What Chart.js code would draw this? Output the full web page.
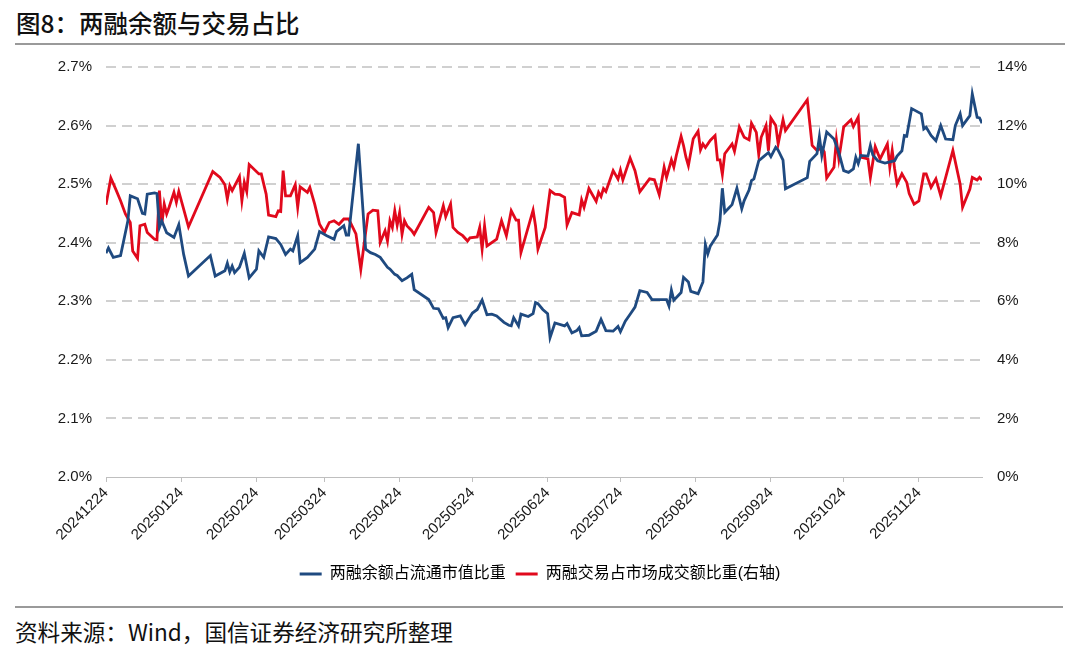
<!DOCTYPE html>
<html>
<head>
<meta charset="utf-8">
<script src="https://cdn.jsdelivr.net/npm/chart.js@4.4.1/dist/chart.umd.min.js"></script>
<style>
    html, body { margin: 0; padding: 0; background: #fff; }
    body { width: 1080px; height: 655px; position: relative; overflow: hidden; font-family: 'Noto Sans CJK SC', sans-serif; }
    #title { position: absolute; left: 16px; top: 8px; font-size: 24.5px; font-weight: 500; line-height: 30px; color: #111; }
    .rule { position: absolute; left: 15px; height: 2px; background: #9a9a9a; }
    #source { position: absolute; left: 15px; top: 617px; font-size: 22.6px; line-height: 30px; color: #111; }
    #wrap { position: absolute; left: 0; top: 0; width: 1080px; height: 600px; }
</style>
</head>
<body>
<div id="title">图8：两融余额与交易占比</div>
<div class="rule" style="top:43px;width:1050px;"></div>
<div id="wrap"><canvas id="chart" width="1080" height="600"></canvas></div>
<div class="rule" style="top:606px;width:1048px;"></div>
<div id="source">资料来源：Wind，国信证券经济研究所整理</div>
<script>
// x values are calendar days after startDate
const startDate = '20241224';
const tickDates = ['20241224', '20250124', '20250224', '20250324', '20250424', '20250524',
    '20250624', '20250724', '20250824', '20250924', '20251024', '20251124'];

// 两融余额占流通市值比重 (%)
const balanceDays = [0, 1, 3, 6, 9, 10, 13, 15, 16, 17, 20, 21, 22, 23, 25, 28, 30, 32, 34, 43,
    45, 49, 50, 51, 52, 53, 55, 57, 59, 62, 63, 65, 67, 70, 72, 74, 76, 77, 79, 80,
    83, 86, 88, 91, 94, 95, 98, 99, 100, 104, 107, 109, 111, 113, 116, 117, 119, 120, 122, 124,
    126, 127, 133, 135, 137, 139, 140, 141, 143, 146, 148, 151, 153, 155, 157, 159, 161, 164, 166, 167,
    168, 170, 171, 174, 176, 177, 178, 180, 182, 183, 185, 189, 190, 192, 194, 195, 196, 199, 202, 204,
    206, 209, 211, 212, 214, 216, 218, 220, 223, 225, 228, 231, 232, 233, 234, 237, 238, 240, 241, 244,
    246, 247, 248, 249, 252, 253, 254, 255, 258, 260, 262, 263, 265, 266, 267, 269, 271, 273, 274, 276,
    277, 279, 280, 289, 290, 293, 294, 295, 297, 300, 302, 304, 306, 308, 309, 310, 311, 314, 315, 316,
    318, 321, 325, 326, 328, 329, 330, 332, 336, 337, 338, 340, 342, 344, 346, 349, 350, 352, 353, 356,
    357, 359, 360, 361];
const balanceRatio = [2.382, 2.391, 2.375, 2.378, 2.437, 2.480, 2.475, 2.450, 2.449, 2.483, 2.485, 2.484, 2.426, 2.437, 2.417, 2.409, 2.431, 2.380, 2.343, 2.378,
    2.343, 2.352, 2.365, 2.350, 2.360, 2.349, 2.358, 2.382, 2.340, 2.355, 2.386, 2.375, 2.410, 2.407, 2.397, 2.380, 2.389, 2.386, 2.412, 2.366,
    2.375, 2.389, 2.419, 2.412, 2.406, 2.419, 2.429, 2.413, 2.413, 2.569, 2.389, 2.383, 2.380, 2.375, 2.358, 2.355, 2.346, 2.344, 2.335, 2.340,
    2.346, 2.320, 2.303, 2.288, 2.287, 2.271, 2.272, 2.255, 2.272, 2.275, 2.260, 2.280, 2.286, 2.302, 2.277, 2.278, 2.275, 2.264, 2.259, 2.258,
    2.272, 2.258, 2.278, 2.274, 2.279, 2.298, 2.296, 2.286, 2.279, 2.238, 2.263, 2.258, 2.262, 2.246, 2.250, 2.255, 2.241, 2.242, 2.249, 2.269,
    2.250, 2.249, 2.257, 2.248, 2.266, 2.278, 2.290, 2.318, 2.315, 2.303, 2.303, 2.303, 2.292, 2.319, 2.302, 2.315, 2.341, 2.333, 2.317, 2.313,
    2.333, 2.397, 2.381, 2.394, 2.413, 2.437, 2.493, 2.452, 2.465, 2.493, 2.458, 2.472, 2.490, 2.506, 2.509, 2.540, 2.547, 2.554, 2.547, 2.563,
    2.558, 2.541, 2.492, 2.511, 2.539, 2.552, 2.581, 2.549, 2.589, 2.577, 2.554, 2.523, 2.520, 2.526, 2.546, 2.535, 2.549, 2.548, 2.566, 2.550,
    2.540, 2.536, 2.540, 2.548, 2.557, 2.583, 2.582, 2.629, 2.620, 2.594, 2.597, 2.583, 2.574, 2.600, 2.577, 2.576, 2.600, 2.620, 2.600, 2.617,
    2.654, 2.614, 2.613, 2.604];

// 两融交易占市场成交额比重 (%, right axis)
const tradeDays = [0, 2, 4, 6, 8, 10, 11, 13, 14, 16, 17, 20, 21, 22, 23, 24, 25, 26, 28, 29,
    30, 32, 34, 44, 47, 49, 50, 51, 52, 55, 56, 57, 58, 59, 63, 64, 66, 67, 70, 71,
    72, 73, 74, 76, 78, 79, 80, 83, 84, 86, 88, 90, 92, 94, 96, 98, 100, 103, 105, 108,
    110, 112, 113, 115, 116, 117, 118, 119, 120, 121, 122, 123, 124, 126, 127, 133, 135, 136, 139, 140,
    142, 143, 145, 147, 149, 150, 153, 154, 155, 156, 157, 161, 163, 165, 167, 169, 170, 171, 176, 177,
    178, 181, 183, 185, 187, 189, 190, 192, 195, 196, 197, 199, 202, 203, 204, 205, 206, 209, 211, 212,
    213, 216, 218, 220, 224, 226, 228, 230, 231, 233, 234, 235, 237, 238, 239, 240, 242, 244, 245, 246,
    247, 249, 251, 252, 253, 254, 255, 258, 259, 261, 263, 265, 266, 268, 269, 270, 272, 273, 274, 276,
    277, 279, 280, 289, 291, 293, 295, 296, 297, 300, 301, 302, 304, 307, 308, 310, 311, 314, 315, 317,
    319, 322, 323, 324, 325, 326, 328, 330, 331, 333, 335, 337, 338, 340, 342, 344, 349, 352, 353, 356,
    357, 359, 360, 361];
const tradeRatio = [9.30, 10.21, 9.83, 9.43, 8.98, 8.69, 7.72, 7.47, 8.58, 8.63, 8.35, 8.12, 8.10, 9.78, 8.63, 9.32, 8.98, 9.21, 9.72, 9.38,
    9.75, 9.15, 8.54, 10.43, 10.23, 9.98, 9.49, 9.95, 9.78, 10.26, 9.43, 10.06, 9.75, 10.67, 10.35, 10.35, 9.66, 8.94, 8.89, 9.09,
    9.07, 10.46, 9.60, 9.60, 9.98, 9.21, 9.91, 9.72, 9.89, 9.32, 8.63, 8.35, 8.69, 8.75, 8.63, 8.81, 8.81, 8.30, 7.09, 8.98,
    9.11, 9.09, 8.01, 8.41, 8.06, 8.75, 8.52, 9.09, 8.60, 9.03, 8.29, 8.75, 8.58, 8.41, 8.29, 9.21, 9.03, 8.35, 9.26, 8.89,
    9.32, 8.52, 8.35, 8.24, 8.06, 8.17, 8.20, 8.52, 7.78, 8.58, 7.89, 8.12, 8.75, 8.24, 9.09, 8.77, 8.77, 7.66, 9.11, 8.58,
    7.78, 8.52, 9.78, 9.66, 9.64, 9.55, 8.61, 9.03, 8.95, 9.46, 9.21, 9.85, 9.41, 9.72, 9.58, 9.85, 9.75, 10.46, 10.17, 10.48,
    10.14, 10.89, 10.46, 9.74, 10.18, 10.15, 9.64, 10.58, 10.23, 10.83, 10.58, 10.97, 11.63, 11.32, 10.92, 10.63, 11.55, 11.81, 11.17, 11.37,
    11.25, 11.49, 11.66, 10.83, 10.83, 10.33, 11.04, 11.37, 11.12, 11.95, 11.60, 11.51, 12.08, 11.77, 11.01, 11.60, 12.00, 11.14, 12.26, 12.00,
    11.37, 12.20, 11.83, 12.88, 11.32, 11.15, 11.24, 11.10, 10.21, 10.58, 11.51, 10.86, 11.95, 12.20, 11.97, 12.29, 10.92, 10.86, 10.23, 11.28,
    10.86, 11.37, 10.58, 11.15, 10.52, 10.00, 10.35, 10.06, 9.68, 9.32, 9.43, 10.35, 10.35, 9.89, 10.18, 9.60, 11.15, 10.00, 9.21, 9.83,
    10.23, 10.14, 10.23, 10.14];

function toUTC(s) {
    return Date.UTC(+s.slice(0, 4), +s.slice(4, 6) - 1, +s.slice(6, 8));
}
const base = toUTC(startDate);
const tickDays = tickDates.map(s => Math.round((toUTC(s) - base) / 86400000));
const tickLabel = {};
tickDays.forEach((d, i) => { tickLabel[d] = tickDates[i]; });

Chart.defaults.font.family = "'Liberation Sans', 'Noto Sans CJK SC', sans-serif";
Chart.defaults.color = '#1a1a1a';

const blue = '#1f4a80';
const red = '#e1091c';

new Chart(document.getElementById('chart').getContext('2d'), {
    type: 'line',
    data: {
        datasets: [{
            label: '两融余额占流通市值比重',
            data: balanceDays.map((d, i) => ({ x: d, y: balanceRatio[i] })),
            borderColor: blue,
            backgroundColor: blue,
            borderWidth: 2.8,
            pointRadius: 0,
            tension: 0,
            yAxisID: 'yL'
        }, {
            label: '两融交易占市场成交额比重(右轴)',
            data: tradeDays.map((d, i) => ({ x: d, y: tradeRatio[i] })),
            borderColor: red,
            backgroundColor: red,
            borderWidth: 2.8,
            pointRadius: 0,
            tension: 0,
            yAxisID: 'yR'
        }]
    },
    options: {
        responsive: false,
        animation: false,
        layout: { padding: { top: 67, left: 0, right: 0, bottom: 8 } },
        plugins: {
            tooltip: { enabled: false },
            legend: {
                position: 'bottom',
                labels: {
                    boxWidth: 22,
                    boxHeight: 3,
                    padding: 10,
                    font: { size: 16 },
                    color: '#111',
                    generateLabels: chart => chart.data.datasets.map((ds, i) => ({
                        text: ds.label,
                        fillStyle: ds.borderColor,
                        strokeStyle: ds.borderColor,
                        lineWidth: 0,
                        hidden: false,
                        datasetIndex: i
                    }))
                }
            }
        },
        scales: {
            x: {
                type: 'linear',
                min: 0,
                max: 361,
                afterBuildTicks: scale => { scale.ticks = tickDays.map(v => ({ value: v })); },
                afterFit: scale => { scale.height = 79; },
                ticks: {
                    autoSkip: false,
                    minRotation: 45,
                    maxRotation: 45,
                    padding: 2,
                    font: { size: 15 },
                    callback: value => tickLabel[value] || ''
                },
                grid: { drawOnChartArea: false, drawTicks: true, tickLength: 5, color: '#bfbfbf', lineWidth: 1 },
                border: { color: '#bfbfbf', width: 1 }
            },
            yL: {
                position: 'left',
                min: 2.0,
                max: 2.7,
                afterFit: scale => { scale.width = 106; },
                ticks: {
                    stepSize: 0.1,
                    padding: 14,
                    font: { size: 15 },
                    callback: v => v.toFixed(1) + '%'
                },
                grid: {
                    color: ctx => (ctx.tick && ctx.tick.value < 2.05) ? 'rgba(0,0,0,0)' : '#d0d0d0',
                    lineWidth: 2,
                    drawTicks: false
                },
                border: { display: false, dash: [10, 6] }
            },
            yR: {
                position: 'right',
                min: 0,
                max: 14,
                afterFit: scale => { scale.width = 98; },
                ticks: {
                    stepSize: 2,
                    padding: 15,
                    font: { size: 15 },
                    callback: v => v + '%'
                },
                grid: { drawOnChartArea: false, drawTicks: false },
                border: { display: false }
            }
        }
    }
});
</script>
</body>
</html>
